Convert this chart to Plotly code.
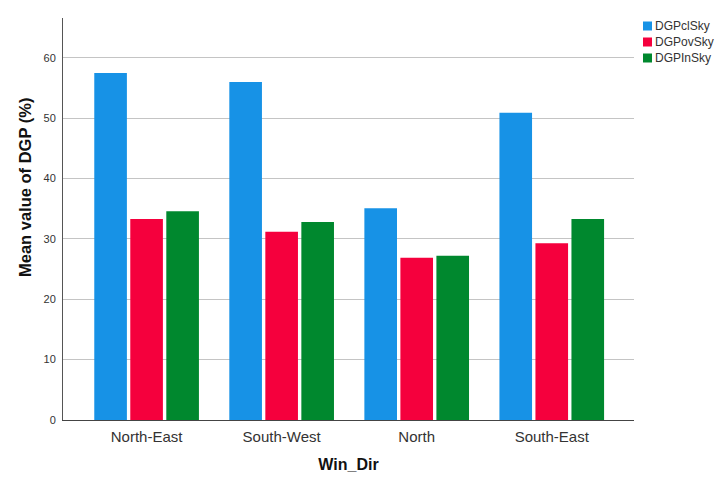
import plotly.graph_objects as go

# Mean DGP by window direction for three sky conditions
directions = ["North-East", "South-West", "North", "South-East"]
series_names = ["DGPclSky", "DGPovSky", "DGPInSky"]
dgp_clear = [57.5, 56.0, 35.1, 50.9]
dgp_overcast = [33.3, 31.2, 26.9, 29.3]
dgp_intermediate = [34.6, 32.8, 27.2, 33.3]
y_ticks = [0, 10, 20, 30, 40, 50, 60]

colors = ["#1792E6", "#F5003D", "#00882E"]
values = [dgp_clear, dgp_overcast, dgp_intermediate]

W, H = 717, 478
PL, PR, PT, PB = 63, 634, 18, 420  # plot area in pixels
PW, PH = PR - PL, PB - PT


def px_x(x):
    return (x - PL) / PW


def px_y(y):
    return (PB - y) / PH


fig = go.Figure()
for name, vals, col in zip(series_names, values, colors):
    fig.add_trace(go.Bar(
        x=directions, y=vals, name=name,
        marker=dict(color=col, line=dict(width=0)),
        showlegend=False,
    ))

# Legend drawn as swatches + labels at the top right
legend_left = 643
row_y0 = 26
row_step = 16
sq = 9
shapes = []
annotations = []
for i, (name, col) in enumerate(zip(series_names, colors)):
    cy = row_y0 + i * row_step
    shapes.append(dict(
        type="rect", xref="paper", yref="paper", layer="above",
        x0=px_x(legend_left), x1=px_x(legend_left + sq),
        y0=px_y(cy + sq / 2), y1=px_y(cy - sq / 2),
        fillcolor=col, line=dict(width=0),
    ))
    annotations.append(dict(
        text=name, xref="paper", yref="paper", showarrow=False,
        x=px_x(legend_left + sq + 1), y=px_y(cy),
        xanchor="left", yanchor="middle",
        font=dict(family="Liberation Sans, Arial, sans-serif", size=12, color="#333333"),
    ))

# Vertical axis title
annotations.append(dict(
    text="<b>Mean value of DGP (%)</b>", xref="paper", yref="paper", showarrow=False,
    x=px_x(25), y=px_y(188), xanchor="center", yanchor="middle", textangle=-90,
    font=dict(family="Liberation Sans, Arial, sans-serif", size=16.5, color="#111111"),
))

fig.update_layout(
    width=W, height=H,
    margin=dict(l=PL, r=W - PR, t=PT, b=H - PB),
    paper_bgcolor="white", plot_bgcolor="white",
    barmode="group", bargap=0.2, bargroupgap=0.094,
    font=dict(family="Liberation Sans, Arial, sans-serif", color="#333333"),
    shapes=shapes, annotations=annotations,
    xaxis=dict(
        range=[-0.619, 3.609],
        showgrid=False, showline=True, linecolor="#444444", linewidth=1,
        ticks="", tickfont=dict(size=15, color="#333333"),
        ticklabelstandoff=3,
        title=dict(text="<b>Win_Dir</b>", font=dict(size=16, color="#111111"), standoff=14),
        automargin=False, fixedrange=True,
    ),
    yaxis=dict(
        range=[0, 66.6],
        tickvals=y_ticks, ticktext=[str(v) for v in y_ticks],
        showgrid=True, gridcolor="#C4C4C4", gridwidth=1,
        zeroline=False,
        showline=True, linecolor="#555555", linewidth=1,
        ticks="", tickfont=dict(size=11, color="#333333"),
        ticklabelstandoff=4,
        automargin=False, fixedrange=True,
    ),
)

fig.write_html("out.html")
